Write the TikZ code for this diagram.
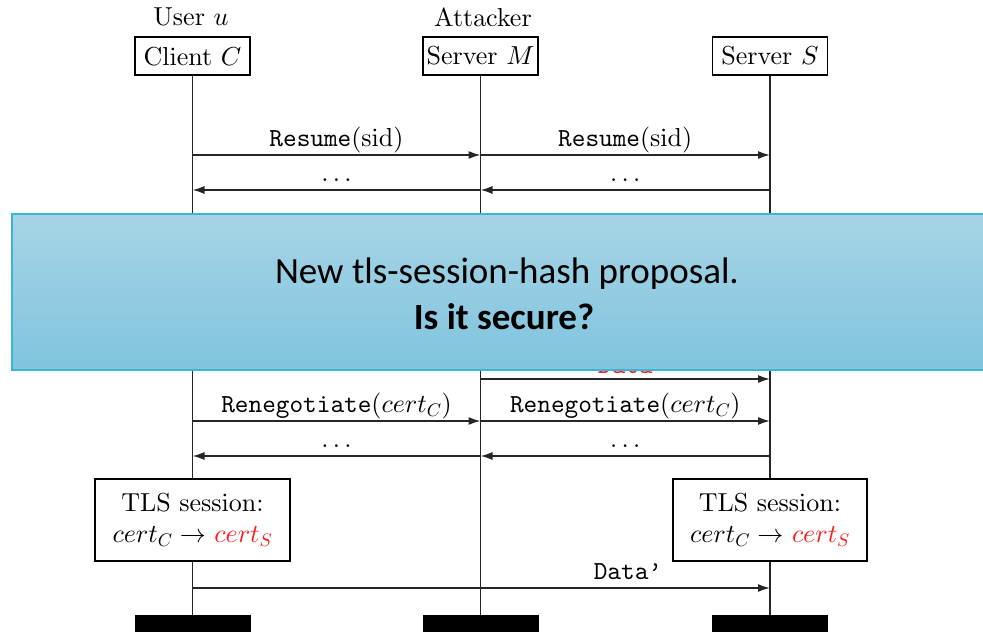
\documentclass[tikz,border=0pt]{standalone}
\usepackage{fontspec}
\newfontfamily\carlito{Carlito}
\usetikzlibrary{arrows.meta}
% Computer Modern at its 10pt design, scaled freely
\DeclareFontFamily{OT1}{cmrx}{}
\DeclareFontShape{OT1}{cmrx}{m}{n}{<->cmr10}{}
\DeclareFontFamily{OT1}{cmttx}{\hyphenchar\font=-1}
\DeclareFontShape{OT1}{cmttx}{m}{n}{<->cmtt10}{}
\DeclareFontShape{OML}{cmm}{m}{it}{<->cmmi10}{}
\DeclareFontShape{OMS}{cmsy}{m}{n}{<->cmsy10}{}
\DeclareFontShape{OT1}{cmr}{m}{n}{<->cmr10}{}
\newcommand{\msgtt}[1]{{\fontencoding{OT1}\fontfamily{cmttx}\selectfont #1}}
\definecolor{bannertop}{HTML}{A7D4E5}
\definecolor{bannerbot}{HTML}{7FC4DE}
\definecolor{bannerline}{HTML}{3CB4D6}
\definecolor{certred}{HTML}{FF1A1A}
\newcommand{\certS}{{\color{certred}$cert_S$}}

\begin{document}
\begin{tikzpicture}[x=1pt,y=-1pt,
  font=\fontencoding{OT1}\fontfamily{cmrx}\fontsize{26}{31}\selectfont,
  actor/.style={draw, line width=1.5pt, minimum width=115pt, minimum height=38pt, inner sep=0pt},
  state/.style={draw, line width=1.5pt, minimum width=195pt, minimum height=82pt, align=center, inner sep=0pt},
  bar/.style={fill=black, minimum width=116pt, minimum height=22pt, inner sep=0pt},
  life/.style={line width=1.5pt, black!85},
  msg/.style={line width=1.6pt, black!85, -{Latex[length=12pt,width=8pt]}},
  lbl/.style={anchor=base, yshift=8.5pt, text=black},
  banner/.style={font=\fontencoding{TU}\carlito\fontsize{37}{45}\selectfont, anchor=base, inner sep=0pt}]

\useasboundingbox (0,0) rectangle (983,632);

% participants
\node (u)   at (191,17) {User $u$};
\node (att) at (483,17) {Attacker};
\node[actor] (C) at (192.5,56) {Client $C$};
\node[actor] (M) at (480.5,56) {Server $M$};
\node[actor] (S) at (770,56)   {Server $S$};

% session states
\node[state] (Cs) at (192.5,520) {TLS session:\\ $cert_C\to$ \certS};
\node[state, minimum width=194pt] (Ss) at (770,520) {TLS session:\\ $cert_C\to$ \certS};

% end bars
\node[bar] (Cend) at (192.5,626) {};
\node[bar] (Mend) at (480.5,626) {};
\node[bar] (Send) at (770,626)   {};

% lifelines
\draw[life] (C) -- (Cs);
\draw[life] (Cs) -- (Cend);
\draw[life] (M) -- (Mend);
\draw[life] (S) -- (Ss);
\draw[life] (Ss) -- (Send);

% message end points on the lifelines
\foreach \n/\y in {a/155, b/190, c/379, d/421, e/456, f/588} {
  \coordinate (c\n) at (192.5,\y);
  \coordinate (m\n) at (480.5,\y);
  \coordinate (s\n) at (770,\y);
}

% messages
\draw[msg] (ca) -- (ma) node[lbl, midway] {\msgtt{Resume}(sid)};
\draw[msg] (ma) -- (sa) node[lbl, midway] {\msgtt{Resume}(sid)};
\draw[msg] (sb) -- (mb) node[lbl, midway] {$\ldots$};
\draw[msg] (mb) -- (cb) node[lbl, midway] {$\ldots$};
\draw[msg] (mc) -- (sc) node[lbl, midway, yshift=-2.5pt] {\color{certred}\msgtt{Data}};
\draw[msg] (cd) -- (md) node[lbl, midway] {\msgtt{Renegotiate}($cert_C$)};
\draw[msg] (md) -- (sd) node[lbl, midway] {\msgtt{Renegotiate}($cert_C$)};
\draw[msg] (se) -- (me) node[lbl, midway] {$\ldots$};
\draw[msg] (me) -- (ce) node[lbl, midway] {$\ldots$};
\draw[msg] (cf) -- (sf) node[lbl, pos=0.754] {\msgtt{Data'}};

% question banner laid over the exchange
\shade[top color=bannertop, bottom color=bannerbot, draw=bannerline, line width=1.2pt]
  (12,214) rectangle (992,370);
\node[banner] (q1) at (507,283) {New tls-session-hash proposal.};
\node[banner] (q2) at (504,329) {\bfseries Is it secure?};
\end{tikzpicture}
\end{document}
